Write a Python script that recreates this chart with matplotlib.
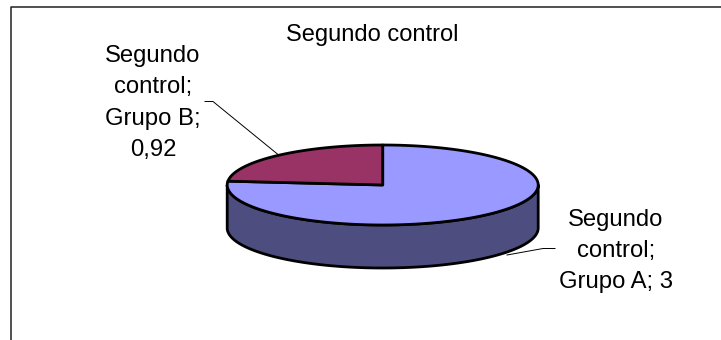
import numpy as np
import matplotlib
matplotlib.use("Agg")
import matplotlib.pyplot as plt
from matplotlib.patches import Polygon

plt.rcParams["font.family"] = ["Liberation Sans", "DejaVu Sans"]

title = "Segundo control"
groups = ["Grupo A", "Grupo B"]
values = [3, 0.92]
value_labels = ["3", "0,92"]
top_colors = ["#9999ff", "#993366"]
side_color = "#4d4d80"

W, H = 721, 340
fig = plt.figure(figsize=(W / 100, H / 100), dpi=100)
ax = fig.add_axes([0, 0, 1, 1])
ax.set_xlim(0, W)
ax.set_ylim(H, 0)
ax.axis("off")

# chart frame, only top and left edges show
ax.plot([11, 11, 721], [340, 6.7, 6.7], color="#222222", lw=1.1)

ax.text(372.5, 34.5, title, ha="center", va="center", fontsize=17)

# pie geometry
cx, cy = 382.7, 185
rx, ry = 155.5, 40
depth = 43

# slices run clockwise from 12 o'clock, squashed into an ellipse
fractions = np.array(values) / sum(values)
angles = np.concatenate([[0], np.cumsum(fractions) * 2 * np.pi])


def rim(a0, a1, n=200):
    t = np.linspace(a0, a1, n)
    return cx + rx * np.sin(t), cy - ry * np.cos(t)


# side wall, lower half of the ellipse
t = np.linspace(np.pi / 2, 3 * np.pi / 2, 200)
xs = cx + rx * np.sin(t)
ys = cy - ry * np.cos(t)
wall = np.column_stack([np.r_[xs, xs[::-1]], np.r_[ys, ys[::-1] + depth]])
ax.add_patch(Polygon(wall, closed=True, fc=side_color, ec="black", lw=2.0, joinstyle="round"))

for i in range(len(values)):
    x, y = rim(angles[i], angles[i + 1])
    pts = np.column_stack([np.r_[cx, x], np.r_[cy, y]])
    ax.add_patch(Polygon(pts, closed=True, fc=top_colors[i], ec="black", lw=2.0, joinstyle="round"))

# leader lines
ax.plot([205, 213, 278], [101.5, 101.5, 154.5], color="black", lw=0.7)
ax.plot([507, 543, 555], [255, 248.5, 248.5], color="black", lw=0.7)

ax.text(153, 103, "Segundo\ncontrol;\n%s;\n%s" % (groups[1], value_labels[1]),
        ha="center", va="center", fontsize=17.2, linespacing=1.53)
ax.text(616, 251, "Segundo\ncontrol;\n%s; %s" % (groups[0], value_labels[0]),
        ha="center", va="center", fontsize=17.2, linespacing=1.53)

fig.savefig("out.png", dpi=100)
